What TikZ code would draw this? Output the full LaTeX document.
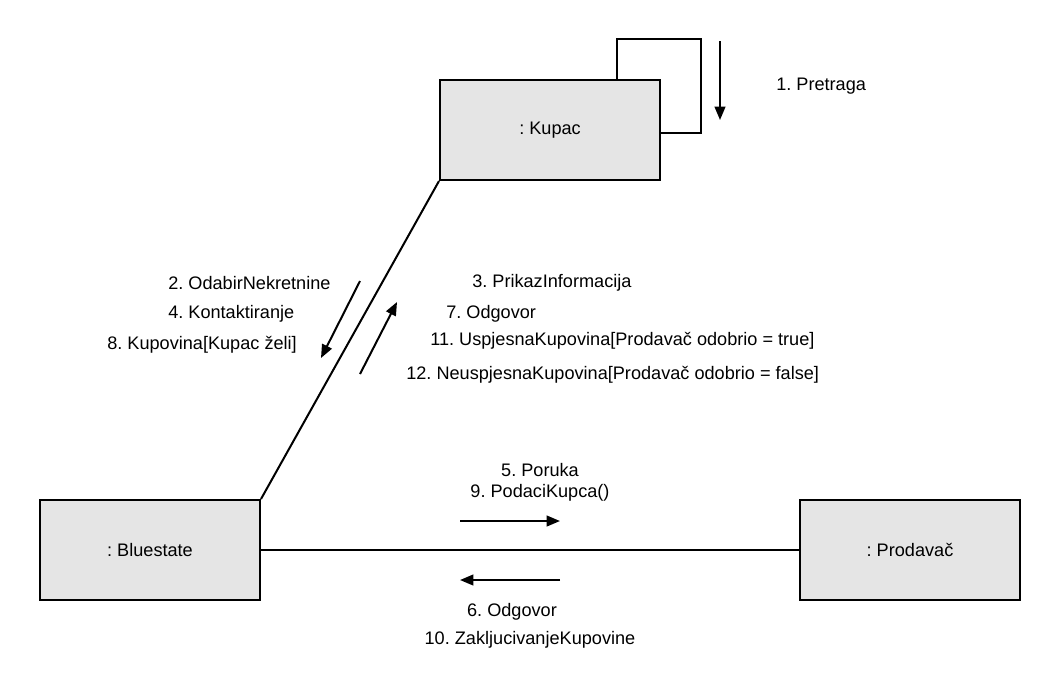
\documentclass[tikz,border=0pt]{standalone}
\usepackage{fontspec}
\setmainfont{Liberation Sans}
\usetikzlibrary{arrows.meta}
\frenchspacing
\begin{document}
\begin{tikzpicture}[x=0.75pt,y=-0.75pt,
  obj/.style={draw=black,line width=1.5pt,fill=black!10,minimum width=165pt,minimum height=75pt,inner sep=0pt,font=\fontsize{13.6pt}{16pt}\selectfont},
  lbl/.style={inner sep=0pt,anchor=west,font=\fontsize{13.6pt}{16pt}\selectfont},
  conn/.style={line width=1.5pt},
  msg/.style={line width=1.5pt,-{Triangle[length=10pt,width=8pt]}}]
\useasboundingbox (0,0) rectangle (1060,694);
\node[obj] (kupac) at (550,130) {: Kupac};
\node[obj] (blue) at (150,550) {: Bluestate};
\node[obj] (prod) at (910,550) {: Prodavač};
% connectors
\draw[conn] (kupac.south west) -- (blue.north east);
\draw[conn] (blue.east) -- (prod.west);
\coordinate (l1) at (617,39);
\coordinate (l2) at (701,39);
\coordinate (l3) at (701,133);
\draw[conn] (kupac.north west -| l1) -- (l1) -- (l2) -- (l3) -- (l3 -| kupac.east);
% message arrows
\coordinate (a1s) at (720,41); \coordinate (a1e) at (720,120);
\draw[msg] (a1s) -- (a1e);
\coordinate (a2s) at (360,281); \coordinate (a2e) at (321,358);
\draw[msg] (a2s) -- (a2e);
\coordinate (a3s) at (360,374); \coordinate (a3e) at (397,302);
\draw[msg] (a3s) -- (a3e);
\coordinate (a4s) at (460,521); \coordinate (a4e) at (560,521);
\draw[msg] (a4s) -- (a4e);
\coordinate (a5s) at (560,580); \coordinate (a5e) at (460,580);
\draw[msg] (a5s) -- (a5e);
% labels
\node[lbl] (t1) at (776,86) {1. Pretraga};
\node[lbl] (t2) at (168,283) {2. OdabirNekretnine};
\node[lbl] (t4) at (168,314) {4. Kontaktiranje};
\node[lbl] (t8) at (107,345) {8. Kupovina[Kupac želi]};
\node[lbl] (t3) at (472,283) {3. PrikazInformacija};
\node[lbl] (t7) at (446,314) {7. Odgovor};
\node[lbl] (t11) at (430,341) {11. UspjesnaKupovina[Prodavač odobrio = true]};
\node[lbl] (t12) at (406,375) {12. NeuspjesnaKupovina[Prodavač odobrio = false]};
\node[lbl,anchor=center] (t5) at (540,470) {5. Poruka};
\node[lbl,anchor=center] (t9) at (540,493) {9. PodaciKupca()};
\node[lbl,anchor=center] (t6) at (512,612) {6. Odgovor};
\node[lbl,anchor=center] (t10) at (530,640) {10. ZakljucivanjeKupovine};
\end{tikzpicture}
\end{document}
